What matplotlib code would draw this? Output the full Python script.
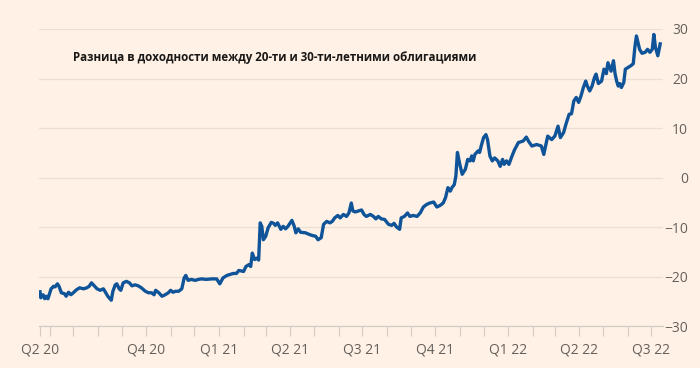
import numpy as np
import matplotlib.pyplot as plt
import matplotlib.dates as mdates

# spread between 20y and 30y bond yields
start = np.datetime64('2020-05-20')
days = [0, 1, 4, 6, 8, 10, 14, 17, 19, 22, 24, 27, 31, 33, 36, 39, 42, 46, 50, 55,
        59, 62, 65, 69, 72, 76, 80, 83, 86, 90, 92, 95, 97, 100, 102, 105, 109, 113, 116, 120,
        124, 128, 133, 137, 141, 144, 146, 150, 154, 158, 162, 165, 168, 171, 175, 179, 182, 184, 187, 191,
        196, 200, 204, 210, 217, 223, 227, 231, 236, 240, 244, 248, 251, 257, 260, 264, 266, 268, 271, 274,
        276, 278, 280, 282, 285, 288, 292, 295, 297, 300, 304, 307, 310, 313, 318, 321, 323, 326, 329, 335,
        341, 345, 348, 351, 355, 358, 362, 366, 369, 372, 376, 379, 383, 387, 390, 393, 395, 398, 402, 406,
        409, 412, 417, 421, 424, 427, 431, 435, 440, 444, 447, 450, 454, 456, 460, 464, 467, 471, 476, 480,
        484, 488, 492, 497, 501, 505, 509, 512, 515, 518, 520, 523, 525, 527, 530, 533, 537, 540, 543, 545,
        547, 549, 553, 555, 557, 560, 563, 565, 568, 571, 574, 578, 581, 584, 586, 589, 592, 595, 599, 604,
        610, 614, 617, 621, 627, 633, 636, 641, 646, 650, 654, 657, 661, 664, 666, 668, 671, 674, 677, 680,
        683, 686, 689, 691, 694, 697, 700, 702, 705, 709, 712, 715, 717, 721, 724, 726, 728, 730, 732, 734,
        737, 739, 743, 746, 749, 751, 753, 757, 760, 764, 767, 770, 773, 775, 777, 780, 783]
spread = [-23.0, -24.2, -23.6, -24.4, -23.9, -24.4, -22.4, -21.9, -22.0, -21.4, -21.9, -23.2, -23.4, -23.9, -23.1, -23.6, -23.2, -22.6, -22.2, -22.4,
          -22.2, -21.9, -21.2, -21.9, -22.4, -22.7, -22.4, -23.2, -24.0, -24.7, -22.9, -21.6, -21.4, -22.4, -22.7, -21.2, -20.9, -21.2, -21.8, -21.6,
          -21.8, -22.2, -22.9, -23.2, -23.2, -23.6, -22.7, -23.2, -23.9, -23.6, -23.2, -22.7, -23.1, -22.9, -22.9, -22.4, -20.2, -19.7, -20.7, -20.5,
          -20.7, -20.5, -20.4, -20.5, -20.4, -20.4, -21.4, -20.2, -19.7, -19.5, -19.3, -19.3, -18.7, -18.9, -17.9, -17.5, -17.9, -15.2, -16.5, -16.2,
          -16.6, -9.1, -9.8, -12.5, -11.8, -10.1, -9.0, -9.2, -9.6, -9.1, -10.4, -9.8, -10.3, -9.8, -8.6, -9.8, -11.1, -10.3, -11.0, -11.1,
          -11.5, -11.7, -11.8, -12.5, -12.1, -9.4, -8.8, -9.1, -8.8, -8.1, -7.6, -8.1, -7.4, -7.8, -7.1, -5.1, -6.7, -6.9, -6.7, -6.5,
          -7.4, -7.8, -7.4, -7.8, -8.3, -7.8, -8.3, -8.4, -9.4, -9.6, -9.2, -9.9, -10.4, -8.1, -7.8, -7.1, -7.8, -7.6, -7.8, -7.1,
          -5.9, -5.4, -5.1, -4.9, -5.9, -5.6, -5.1, -4.0, -2.0, -2.7, -2.0, -1.4, 0.3, 5.1, 2.7, 0.7, 1.7, 3.7, 3.4, 4.4,
          3.4, 4.7, 5.4, 5.1, 6.4, 8.1, 8.7, 7.7, 4.4, 3.4, 4.0, 3.4, 2.3, 3.7, 2.7, 3.4, 2.7, 4.0, 5.6, 7.1,
          7.4, 8.2, 7.3, 6.4, 6.7, 6.4, 4.7, 8.4, 7.7, 8.4, 10.4, 8.1, 9.1, 10.8, 11.8, 12.8, 12.9, 15.5, 16.2, 15.2,
          16.5, 18.2, 19.5, 18.5, 17.5, 18.5, 20.2, 20.9, 19.0, 19.5, 21.9, 21.0, 23.2, 21.5, 23.6, 21.0, 19.5, 18.5, 19.0, 18.2,
          19.2, 21.9, 22.3, 22.6, 23.0, 26.3, 28.6, 25.9, 25.1, 25.3, 25.9, 25.3, 25.9, 28.9, 26.3, 24.6, 27.0]

dates = start + np.array(days).astype('timedelta64[D]')

label_dates = ['2020-05-20', '2020-10-01', '2021-01-01', '2021-04-01', '2021-07-01',
               '2021-10-01', '2022-01-01', '2022-04-01', '2022-07-01']
labels = ['Q2 20', 'Q4 20', 'Q1 21', 'Q2 21', 'Q3 21', 'Q4 21', 'Q1 22', 'Q2 22', 'Q3 22']
yticks = [-30, -20, -10, 0, 10, 20, 30]

bg = '#fff1e5'
plt.rcParams['font.family'] = ['Open Sans', 'DejaVu Sans']

fig = plt.figure(figsize=(7, 3.68), dpi=100, facecolor=bg)
ax = fig.add_axes([0.0557, 0.1128, 0.8914, 0.8084], facecolor=bg)

ax.plot(dates, spread, color='#0f5499', lw=2.4, solid_joinstyle='round', zorder=3)

ax.set_ylim(-30, 30)
ax.set_xlim(start - np.timedelta64(31, 'h'), start + np.timedelta64(786 * 24 + 12, 'h'))

ax.set_yticks(yticks)
ax.yaxis.tick_right()
ax.tick_params(axis='y', length=0, pad=18, labelsize=10, labelcolor='#66605c')
for t in ax.get_yticklabels():
    t.set_horizontalalignment('right')
ax.grid(axis='y', color='#e9e0d6', lw=0.9, zorder=0)

ax.set_xticks(np.array(label_dates, dtype='datetime64[D]'))
ax.set_xticklabels(labels)
ax.xaxis.set_minor_locator(mdates.MonthLocator())
ax.tick_params(axis='x', which='both', length=7.2, width=0.8, color='#d4ccc4',
               labelsize=10, labelcolor='#66605c', pad=4)

for s in ['top', 'left', 'right']:
    ax.spines[s].set_visible(False)
ax.spines['bottom'].set_color('#d4ccc4')
ax.spines['bottom'].set_linewidth(0.9)

fig.text(73 / 700, 1 - 57 / 368, 'Разница в доходности между 20-ти и 30-ти-летними облигациями',
         fontsize=8.3, fontweight='bold', color='#1a1817', va='center', ha='left')

fig.savefig('out.png', dpi=100, facecolor=bg)
